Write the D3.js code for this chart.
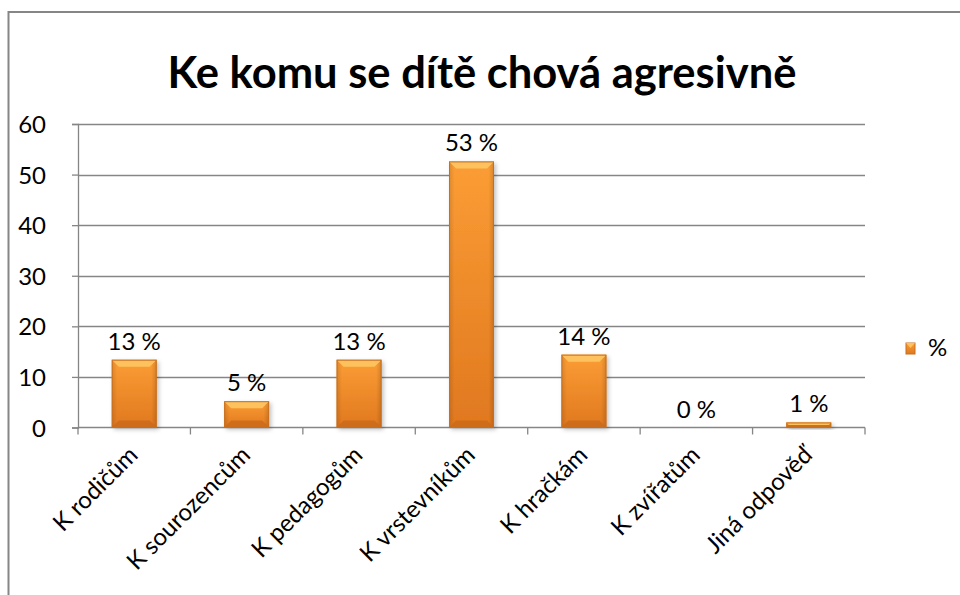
<!DOCTYPE html>
<html>
<head>
<meta charset="utf-8">
<script src="https://cdn.jsdelivr.net/npm/d3@7"></script>
<style>
  body { margin: 0; background: #fff; }
  text { font-family: Lato, "Open Sans", sans-serif; fill: #000; }
</style>
</head>
<body>
<div id="chart"></div>
<script>
const title = "Ke komu se dítě chová agresivně"
const categories = ["K rodičům", "K sourozencům", "K pedagogům", "K vrstevníkům", "K hračkám", "K zvířatům", "Jiná odpověď"]
const values = [13.4, 5.2, 13.4, 52.6, 14.4, 0, 1.0]
const valueLabels = ["13 %", "5 %", "13 %", "53 %", "14 %", "0 %", "1 %"]
const yTicks = [0, 10, 20, 30, 40, 50, 60]
const seriesName = "%"

const width = 960, height = 595
const plot = {left: 78, right: 865, top: 124, bottom: 427.5}
const gridColor = "#868686"

const svg = d3.select("#chart").append("svg")
    .attr("width", width)
    .attr("height", height)

const defs = svg.append("defs")

// body gradient of the bars
const grad = defs.append("linearGradient").attr("id", "barBody")
    .attr("x1", 0).attr("y1", 0).attr("x2", 0).attr("y2", 1)
grad.append("stop").attr("offset", "0%").attr("stop-color", "#fb9d35")
grad.append("stop").attr("offset", "100%").attr("stop-color", "#e0781f")

const side = defs.append("linearGradient").attr("id", "barSide")
    .attr("x1", 0).attr("y1", 0).attr("x2", 1).attr("y2", 0)
side.append("stop").attr("offset", "0%").attr("stop-color", "#000").attr("stop-opacity", 0.12)
side.append("stop").attr("offset", "12%").attr("stop-color", "#000").attr("stop-opacity", 0)
side.append("stop").attr("offset", "88%").attr("stop-color", "#000").attr("stop-opacity", 0)
side.append("stop").attr("offset", "100%").attr("stop-color", "#000").attr("stop-opacity", 0.15)

const shadow = defs.append("filter").attr("id", "shadow")
    .attr("x", "-20%").attr("y", "-20%").attr("width", "150%").attr("height", "150%")
shadow.append("feDropShadow").attr("dx", 2).attr("dy", 2).attr("stdDeviation", 2)
    .attr("flood-color", "#000").attr("flood-opacity", 0.25)

// outer chart border (runs off the page on right and bottom)
svg.append("rect")
    .attr("x", 8.5).attr("y", 12)
    .attr("width", 1000).attr("height", 700)
    .attr("fill", "none")
    .attr("stroke", gridColor)
    .attr("stroke-width", 2)

// title
const titleText = svg.append("text")
    .attr("x", 482).attr("y", 88)
    .attr("text-anchor", "middle")
    .style("font-size", "44px")
    .style("font-weight", "bold")
    .text(title)
if (titleText.node().getComputedTextLength() > 0)
    titleText.attr("textLength", 629).attr("lengthAdjust", "spacingAndGlyphs")

const x = d3.scaleBand()
    .domain(categories)
    .range([plot.left, plot.right])
    .padding(0)

const y = d3.scaleLinear()
    .domain([0, 60])
    .range([plot.bottom, plot.top])

// gridlines
svg.append("g")
    .selectAll("line")
    .data(yTicks.filter(d => d > 0))
    .enter()
    .append("line")
    .attr("x1", plot.left).attr("x2", plot.right)
    .attr("y1", d => Math.round(y(d)) + 0.5).attr("y2", d => Math.round(y(d)) + 0.5)
    .attr("stroke", gridColor)
    .attr("stroke-width", 1.3)

// y axis
const yAxis = svg.append("g")
    .attr("transform", "translate(" + plot.left + ",0)")
    .call(d3.axisLeft(y).tickValues(yTicks).tickSize(6).tickPadding(26))
yAxis.select(".domain").attr("stroke", gridColor).attr("stroke-width", 1.3)
yAxis.selectAll(".tick line").attr("stroke", gridColor).attr("stroke-width", 1.3)
yAxis.selectAll(".tick text")
    .style("font-size", "24px")
    .style("font-family", "Lato, sans-serif")
    .attr("fill", "#000")
    .attr("dy", "0.36em")

// x axis with ticks between categories
const xAxis = svg.append("g")
    .attr("transform", "translate(0," + plot.bottom + ")")
xAxis.append("line")
    .attr("x1", plot.left).attr("x2", plot.right)
    .attr("y1", 0).attr("y2", 0)
    .attr("stroke", gridColor).attr("stroke-width", 1.3)
xAxis.selectAll(".sep")
    .data(categories.concat([null]))
    .enter()
    .append("line")
    .attr("class", "sep")
    .attr("x1", (d, i) => i < categories.length ? x(d) : plot.right)
    .attr("x2", (d, i) => i < categories.length ? x(d) : plot.right)
    .attr("y1", 0).attr("y2", 7)
    .attr("stroke", gridColor).attr("stroke-width", 1.3)

xAxis.selectAll(".lbl")
    .data(categories)
    .enter()
    .append("text")
    .attr("class", "lbl")
    .attr("text-anchor", "end")
    .attr("transform", d => "translate(" + (x(d) + x.bandwidth() / 2 + 5) + ",29) rotate(-45)")
    .style("font-size", "24px")
    .text(d => d)

// bars
const barW = x.bandwidth() * 0.4
const bevel = 7
const bars = svg.append("g")
    .selectAll("g")
    .data(categories.map((c, i) => ({cat: c, v: values[i], label: valueLabels[i]})))
    .enter()
    .append("g")

const drawn = bars.filter(d => d.v > 0)
drawn.append("rect")
    .attr("x", d => x(d.cat) + (x.bandwidth() - barW) / 2)
    .attr("y", d => y(d.v))
    .attr("width", barW)
    .attr("height", d => y(0) - y(d.v))
    .attr("fill", "url(#barBody)")
    .attr("filter", "url(#shadow)")
drawn.append("rect")
    .attr("x", d => x(d.cat) + (x.bandwidth() - barW) / 2)
    .attr("y", d => y(d.v))
    .attr("width", barW)
    .attr("height", d => y(0) - y(d.v))
    .attr("fill", "url(#barSide)")
// lighter top bevel
drawn.append("path")
    .attr("d", d => {
        const x0 = x(d.cat) + (x.bandwidth() - barW) / 2, x1 = x0 + barW
        const t = y(d.v), b = Math.min(bevel, (y(0) - y(d.v)) / 2)
        return "M" + x0 + "," + t + "L" + x1 + "," + t + "L" + (x1 - b) + "," + (t + b) + "L" + (x0 + b) + "," + (t + b) + "Z"
    })
    .attr("fill", "#fdc25d")
// darker bottom bevel
drawn.append("path")
    .attr("d", d => {
        const x0 = x(d.cat) + (x.bandwidth() - barW) / 2, x1 = x0 + barW
        const bt = y(0), b = Math.min(bevel, (y(0) - y(d.v)) / 2)
        return "M" + x0 + "," + bt + "L" + x1 + "," + bt + "L" + (x1 - b) + "," + (bt - b) + "L" + (x0 + b) + "," + (bt - b) + "Z"
    })
    .attr("fill", "#c9691a")
    .attr("opacity", 0.8)
drawn.append("rect")
    .attr("x", d => x(d.cat) + (x.bandwidth() - barW) / 2 + 0.5)
    .attr("y", d => y(d.v) + 0.5)
    .attr("width", barW - 1)
    .attr("height", d => y(0) - y(d.v) - 1)
    .attr("fill", "none")
    .attr("stroke", "#c8701f")
    .attr("stroke-width", 1)

// value labels
bars.append("text")
    .attr("x", d => x(d.cat) + x.bandwidth() / 2)
    .attr("y", d => y(d.v) - 10)
    .attr("text-anchor", "middle")
    .style("font-size", "24px")
    .text(d => d.label)

// legend
const legend = svg.append("g").attr("transform", "translate(906,343)")
legend.append("rect")
    .attr("width", 9).attr("height", 11)
    .attr("fill", "url(#barBody)")
    .attr("stroke", "#c8701f")
legend.append("path")
    .attr("d", "M0,0L9,0L4.5,5Z")
    .attr("fill", "#fdc25d")
legend.append("text")
    .attr("x", 22).attr("y", 13)
    .style("font-size", "24px")
    .text(seriesName)
</script>
</body>
</html>
